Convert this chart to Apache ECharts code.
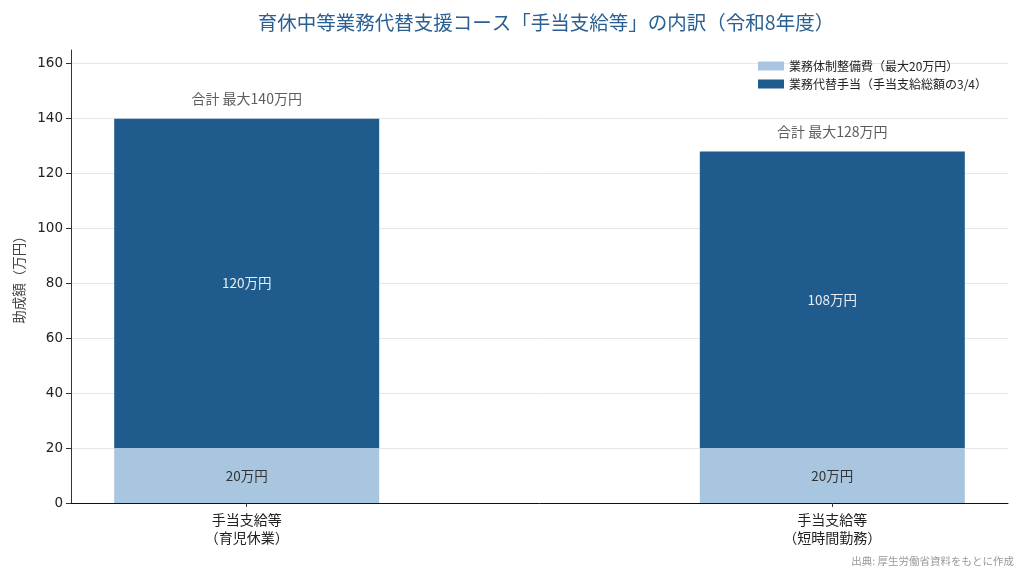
<!DOCTYPE html>
<html>
<head>
<meta charset="utf-8">
<script src="https://cdn.jsdelivr.net/npm/echarts@6/dist/echarts.min.js"></script>
<style>
  html, body { margin: 0; padding: 0; background: #fff; }
  #chart { width: 1024px; height: 573px; }
</style>
</head>
<body>
<div id="chart"></div>
<script>
// data
const categories = ['手当支給等\n（育児休業）', '手当支給等\n（短時間勤務）'];
const equipCost = [20, 20];             // 業務体制整備費
const substituteAllowance = [120, 108]; // 業務代替手当
const totals = [140, 128];
const yTicks = [0, 20, 40, 60, 80, 100, 120, 140, 160];

// the x axis is split into 8 slots so the two bars sit where they do in the picture
const SLOT_COUNT = 8;
const slots = [1, 6];

const FONT = '"Noto Sans CJK JP", "Noto Sans", sans-serif';
const LIGHT = '#a9c6e0';
const DARK = '#1f5b8c';

function spread(values) {
  const out = new Array(SLOT_COUNT).fill('-');
  slots.forEach((s, i) => { out[s] = values[i]; });
  return out;
}
const axisData = new Array(SLOT_COUNT).fill('');
slots.forEach((s, i) => { axisData[s] = categories[i]; });
const showSlot = (idx) => slots.indexOf(idx) !== -1;

const chart = echarts.init(document.getElementById('chart'));

const option = {
  animation: false,
  textStyle: { fontFamily: FONT },
  title: {
    text: '育休中等業務代替支援コース「手当支給等」の内訳（令和8年度）',
    left: 541,
    textAlign: 'center',
    top: 8,
    textStyle: { fontSize: 19.5, fontWeight: 'normal', color: '#2a5f91', fontFamily: FONT }
  },
  legend: {
    data: ['業務体制整備費（最大20万円）', '業務代替手当（手当支給総額の3/4）'],
    orient: 'vertical',
    right: 32,
    top: 55,
    icon: 'rect',
    itemWidth: 26,
    itemHeight: 9,
    itemGap: 6,
    textStyle: { fontSize: 12, color: '#222', fontFamily: FONT }
  },
  grid: { left: 71, right: 16, top: 50, bottom: 70 },
  xAxis: {
    type: 'category',
    data: axisData,
    boundaryGap: true,
    axisLine: { lineStyle: { color: '#111', width: 1 } },
    axisTick: { show: true, alignWithLabel: true, interval: showSlot, length: 4, lineStyle: { color: '#333' } },
    axisLabel: {
      interval: showSlot,
      fontSize: 14,
      lineHeight: 18,
      color: '#222',
      margin: 8,
      fontFamily: FONT
    }
  },
  yAxis: {
    type: 'value',
    min: 0,
    max: 165,
    interval: 20,
    name: '助成額（万円）',
    nameLocation: 'middle',
    nameGap: 45,
    nameTextStyle: { fontSize: 13.5, color: '#444', fontFamily: FONT },
    axisLine: { show: true, lineStyle: { color: '#333' } },
    axisTick: { show: true, customValues: yTicks, length: 5, lineStyle: { color: '#333' } },
    axisLabel: { customValues: yTicks, fontSize: 13.5, color: '#222', margin: 8, fontFamily: 'DejaVu Sans, sans-serif' },
    splitLine: { show: true, lineStyle: { color: '#e6e6e6', width: 1 } }
  },
  series: [
    {
      name: '業務体制整備費（最大20万円）',
      type: 'bar',
      stack: 'total',
      barWidth: 265,
      itemStyle: { color: LIGHT },
      label: { show: true, position: 'inside', formatter: (p) => p.value + '万円', color: '#333', fontSize: 13.5, fontFamily: FONT },
      data: spread(equipCost)
    },
    {
      name: '業務代替手当（手当支給総額の3/4）',
      type: 'bar',
      stack: 'total',
      barWidth: 265,
      itemStyle: { color: DARK },
      label: { show: true, position: 'inside', formatter: (p) => p.value + '万円', color: '#e8eef5', fontSize: 13.5, fontFamily: FONT },
      data: spread(substituteAllowance)
    },
    {
      name: 'total',
      type: 'scatter',
      symbolSize: 0,
      silent: true,
      label: { show: true, position: 'top', distance: 13, formatter: (p) => '合計 最大' + p.value + '万円', color: '#333', fontSize: 14, fontFamily: FONT },
      data: spread(totals)
    }
  ],
  graphic: [
    {
      type: 'text',
      right: 10,
      bottom: 7,
      style: { text: '出典: 厚生労働省資料をもとに作成', fontSize: 10.5, fill: '#999', fontFamily: FONT }
    }
  ]
};

chart.setOption(option);
</script>
</body>
</html>
